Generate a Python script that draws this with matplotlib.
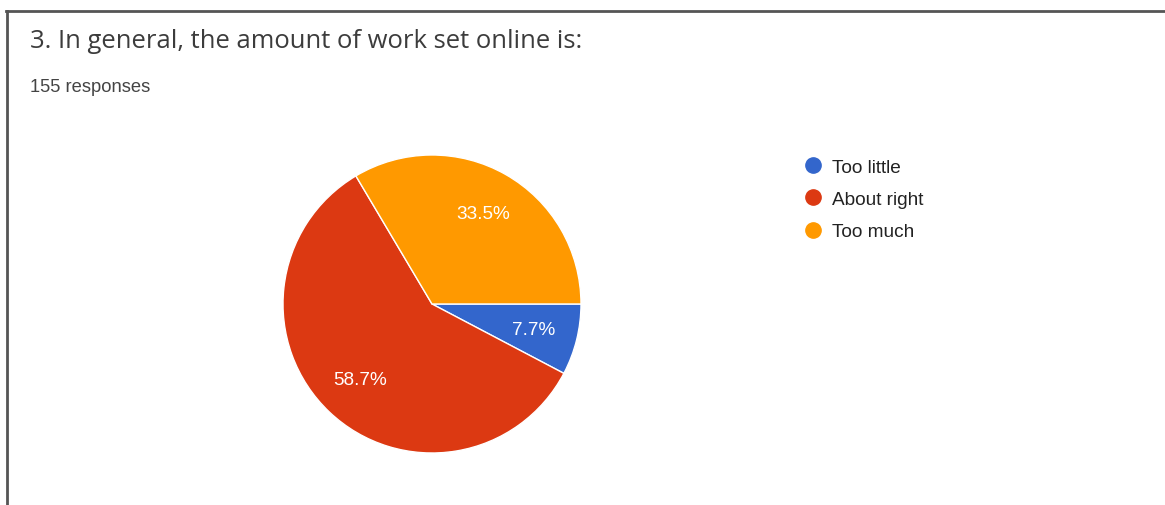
import matplotlib.pyplot as plt
from matplotlib.lines import Line2D

# survey answers (share of 155 responses)
categories = ['Too little', 'About right', 'Too much']
shares = [7.7, 58.7, 33.5]
colours = ['#3366cc', '#dc3912', '#ff9900']
title = '3. In general, the amount of work set online is:'
subtitle = '155 responses'

W, H = 1165, 506
fig = plt.figure(figsize=(W / 100, H / 100), dpi=100)
fig.patch.set_facecolor('white')

# card border (top and left edges of the screenshot)
fig.add_artist(Line2D([6 / W, 1], [1 - 12 / H, 1 - 12 / H], color='#555555', lw=2))
fig.add_artist(Line2D([7 / W, 7 / W], [0, 1 - 12 / H], color='#555555', lw=2))

t_title = fig.text(30 / W, 1 - 41 / H, title, fontsize=16, family='Open Sans',
                   color='#3c3c3c', va='center')
fig.text(30 / W, 1 - 87 / H, subtitle, fontsize=13.2, family='Liberation Sans',
         color='#444444', va='center')

# stretch the title to the width it has in the screenshot
renderer = fig.canvas.get_renderer()
bb = t_title.get_window_extent(renderer)
t_title.set_fontsize(t_title.get_fontsize() * 553 / bb.width)

# pie: centre (432, 305) px, radius 149 px
cx, cy, r = 432, 305, 149
ax = fig.add_axes([(cx - r) / W, (H - cy - r) / H, 2 * r / W, 2 * r / H])
pct_iter = iter(shares)
wedges, _, autotexts = ax.pie(shares, colors=colours, startangle=0, counterclock=False,
                              autopct=lambda p: '%.1f%%' % next(pct_iter), pctdistance=0.7,
                              wedgeprops=dict(edgecolor='white', linewidth=1))
for t in autotexts:
    t.set_color('white')
    t.set_fontsize(13.7)
    t.set_family('Liberation Sans')
ax.set_xlim(-1, 1)
ax.set_ylim(-1, 1)

handles = [Line2D([], [], marker='o', linestyle='', markersize=11,
                  markerfacecolor=c, markeredgecolor=c) for c in colours]
fig.legend(handles, categories, loc='upper left', bbox_to_anchor=(792 / W, 1 - 152 / H),
           frameon=False, prop=dict(family='Liberation Sans', size=13.7), labelcolor='#222222',
           handletextpad=0.3, labelspacing=0.78, borderaxespad=0, handlelength=1.4)

fig.savefig('out.png', dpi=100)
